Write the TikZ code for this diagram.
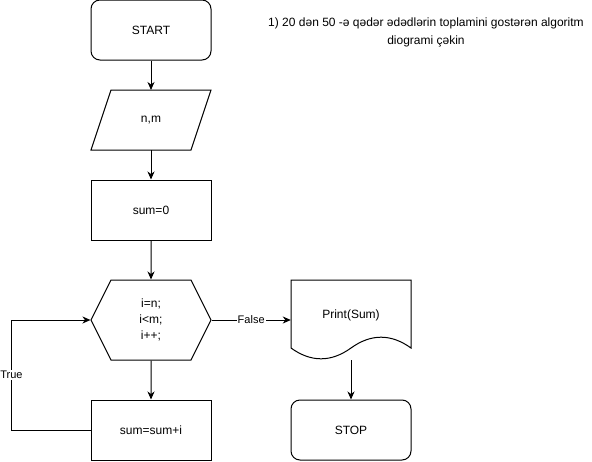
\documentclass[tikz,border=0pt]{standalone}
\usepackage{fontspec}
\setmainfont{Liberation Sans}
\usetikzlibrary{arrows.meta, shapes.geometric, shapes.symbols}
\colorlet{box edge}{black}
\tikzset{
  every node/.style={font=\fontsize{12}{18}\selectfont},
  terminal/.style={draw=box edge, line width=1pt, rounded corners=9pt, minimum width=120pt, minimum height=60pt},
  process/.style={draw=box edge, line width=1pt, minimum width=120pt, minimum height=60pt},
  inout/.style={outer sep=0pt, minimum width=100pt, minimum height=60pt},
  loopbox/.style={draw=box edge, line width=1pt, signal, signal to=east and west, signal pointer angle=126.87, minimum width=120pt, minimum height=80pt, inner sep=0pt, align=center, font=\fontsize{12}{16}\selectfont},
  docbox/.style={minimum width=120pt, minimum height=80pt},
  plain/.style={draw=box edge, line width=1pt},
  edge/.style={plain, -{Stealth[length=8pt, width=7pt, inset=2.5pt]}},
  tag/.style={fill=white, inner sep=1pt, font=\fontsize{11}{13}\selectfont}
}

\begin{document}
\begin{tikzpicture}[x=1pt, y=-1pt]
    \useasboundingbox (0,0) rectangle (592,461);
    \node[terminal] (start) at (151,30) {START};
    \node[inout] (input) at (151,120) {n,m};
    \node[process] (init) at (151,210) {sum=0};
    \node[loopbox] (loop) at (151,320) {i=n;\\i<m;\\i++;};
    \node[process] (body) at (151,430) {sum=sum+i};
    \node[docbox] (print) at (351,320) {};
    \node at (print.center) [yshift=5pt] {Print(Sum)};
    \node[terminal] (stop) at (351,430) {STOP};
    \node[align=center] (title) at (426,32) {1) 20 dən 50 -ə qədər ədədlərin toplamini gostərən algoritm\\diogrami çəkin};
    \draw[plain] ([xshift=-10pt]input.south west) -- ([xshift=10pt]input.north west)
      -- ([xshift=10pt]input.north east) -- ([xshift=-10pt]input.south east) -- cycle;
    \draw[plain] (291,280) -- (411,280) -- (411,348)
      .. controls (391,333.6) and (371,333.6) .. (351,348)
      .. controls (331,362.4) and (311,362.4) .. (291,348) -- cycle;
    \draw[edge] (start) -- (input);
    \draw[edge] (input) -- (init);
    \draw[edge] (init) -- (loop);
    \draw[edge] (loop) -- (body);
    \draw[edge] (loop.east) -- node[tag] {False} (print.west);
    \draw[edge] (body.west) -- ++(-79,0) |- node[tag, pos=0.25] {True} (loop.west);
    \draw[edge] (print.south) -- (stop);
\end{tikzpicture}
\end{document}
